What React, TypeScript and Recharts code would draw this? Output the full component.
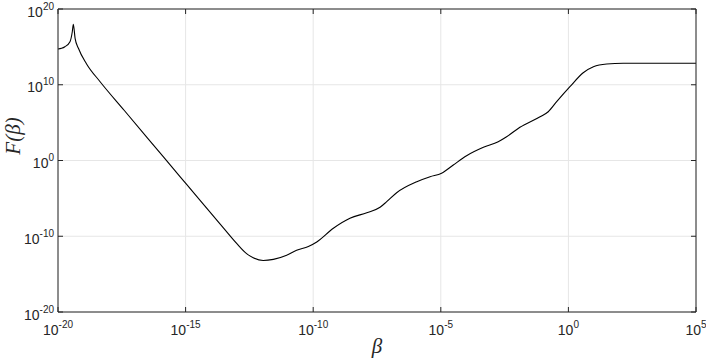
import React from 'react';
import { LineChart, Line, XAxis, YAxis, CartesianGrid } from 'recharts';

// log10(beta) and log10(F(beta))
const betaExp = [
  -20, -19.86, -19.73, -19.53, -19.44, -19.4, -19.33, -19.2, -18.88, -18.35,
  -17.4, -16.5, -15.22, -14.44, -13.52, -13.0, -12.61, -12.35, -11.96, -11.56,
  -11.04, -10.65, -10.19, -9.86, -9.21, -8.56, -7.9, -7.38, -7.12, -6.73,
  -5.94, -5.42, -4.97, -4.51, -3.99, -3.33, -2.75, -2.42, -1.9, -1.11,
  -0.79, -0.46, 0.06, 0.58, 0.98, 1.5, 2.15, 5,
];
const fExp = [
  14.72, 14.81, 15.02, 15.68, 17.0, 17.98, 16.13, 14.81, 12.75, 10.4,
  6.6, 3.0, -2.12, -5.24, -8.9, -10.95, -12.3, -12.85, -13.2, -13.05,
  -12.5, -11.85, -11.35, -10.75, -8.95, -7.63, -6.89, -6.18, -5.44, -4.25,
  -2.8, -2.14, -1.69, -0.59, 0.63, 1.74, 2.48, 3.14, 4.38, 5.78,
  6.44, 7.76, 9.74, 11.59, 12.38, 12.74, 12.83, 12.83,
];

const xTicks = [1e-20, 1e-15, 1e-10, 1e-5, 1e0, 1e5];
const yTicks = [1e-20, 1e-10, 1e0, 1e10, 1e20];

const data = betaExp.map((e, i) => ({ beta: Math.pow(10, e), f: Math.pow(10, fExp[i]) }));

const AXIS = '#262626';
const FONT = '"Liberation Sans", Arial, sans-serif';

const expOf = (v: number) => String(Math.round(Math.log10(v)));

const BottomTick = (props: any) => {
  const { x, y, payload } = props;
  return (
    <g>
      <line x1={x} y1={y} x2={x} y2={y - 5} stroke={AXIS} />
      <text x={x} y={y + 23} textAnchor="middle" fill={AXIS} fontFamily={FONT} fontSize={14}>
        <tspan>10</tspan>
        <tspan dy={-7} fontSize={10}>{expOf(payload.value)}</tspan>
      </text>
    </g>
  );
};

const LeftTick = (props: any) => {
  const { x, y, payload } = props;
  return (
    <g>
      <line x1={x} y1={y} x2={x + 5} y2={y} stroke={AXIS} />
      <text x={x - 4} y={y + 7.5} textAnchor="end" fill={AXIS} fontFamily={FONT} fontSize={14}>
        <tspan>10</tspan>
        <tspan dy={-7} fontSize={10}>{expOf(payload.value)}</tspan>
      </text>
    </g>
  );
};

const TopTick = (props: any) => {
  const { x, y } = props;
  return <line x1={x} y1={y} x2={x} y2={y + 5} stroke={AXIS} />;
};

const RightTick = (props: any) => {
  const { x, y } = props;
  return <line x1={x} y1={y} x2={x - 5} y2={y} stroke={AXIS} />;
};

export default function App() {
  return (
    <div style={{ position: 'absolute', left: 0, top: 0, width: 706, height: 360, background: '#fff' }}>
      <LineChart width={706} height={360} data={data} margin={{ top: 8, right: 9, bottom: 8, left: 0 }}>
        <CartesianGrid stroke="#e6e6e6" />
        <XAxis
          dataKey="beta"
          type="number"
          scale="log"
          domain={[1e-20, 1e5]}
          ticks={xTicks}
          allowDataOverflow
          height={40}
          tickSize={0}
          tickMargin={0}
          tickLine={false}
          axisLine={{ stroke: AXIS }}
          tick={<BottomTick />}
          interval={0}
        />
        <XAxis
          xAxisId="top"
          dataKey="beta"
          orientation="top"
          type="number"
          scale="log"
          domain={[1e-20, 1e5]}
          ticks={xTicks}
          allowDataOverflow
          height={1}
          tickSize={0}
          tickMargin={0}
          tickLine={false}
          axisLine={{ stroke: AXIS }}
          tick={<TopTick />}
          interval={0}
        />
        <YAxis
          dataKey="f"
          type="number"
          scale="log"
          domain={[1e-20, 1e20]}
          ticks={yTicks}
          allowDataOverflow
          width={58}
          tickSize={0}
          tickMargin={0}
          tickLine={false}
          axisLine={{ stroke: AXIS }}
          tick={<LeftTick />}
          interval={0}
        />
        <YAxis
          yAxisId="right"
          dataKey="f"
          orientation="right"
          type="number"
          scale="log"
          domain={[1e-20, 1e20]}
          ticks={yTicks}
          allowDataOverflow
          width={1}
          tickSize={0}
          tickMargin={0}
          tickLine={false}
          axisLine={{ stroke: AXIS }}
          tick={<RightTick />}
          interval={0}
        />
        {/* invisible twin so the top/right box axes have data */}
        <Line
          xAxisId="top"
          yAxisId="right"
          dataKey="f"
          stroke="none"
          dot={false}
          activeDot={false}
          isAnimationActive={false}
        />
        <Line
          type="monotone"
          dataKey="f"
          stroke="#000"
          strokeWidth={1.1}
          dot={false}
          isAnimationActive={false}
        />
      </LineChart>
      <svg width={706} height={360} style={{ position: 'absolute', left: 0, top: 0, pointerEvents: 'none' }}>
        <text x={377} y={353} textAnchor="middle" fontFamily='"Liberation Serif", serif' fontStyle="italic" fontSize={21} fill={AXIS}>
          β
        </text>
        <text
          transform="translate(20,136) rotate(-90)"
          textAnchor="middle"
          fontFamily='"Liberation Serif", serif'
          fontStyle="italic"
          fontSize={21}
          fill={AXIS}
        >
          F(β)
        </text>
      </svg>
    </div>
  );
}
